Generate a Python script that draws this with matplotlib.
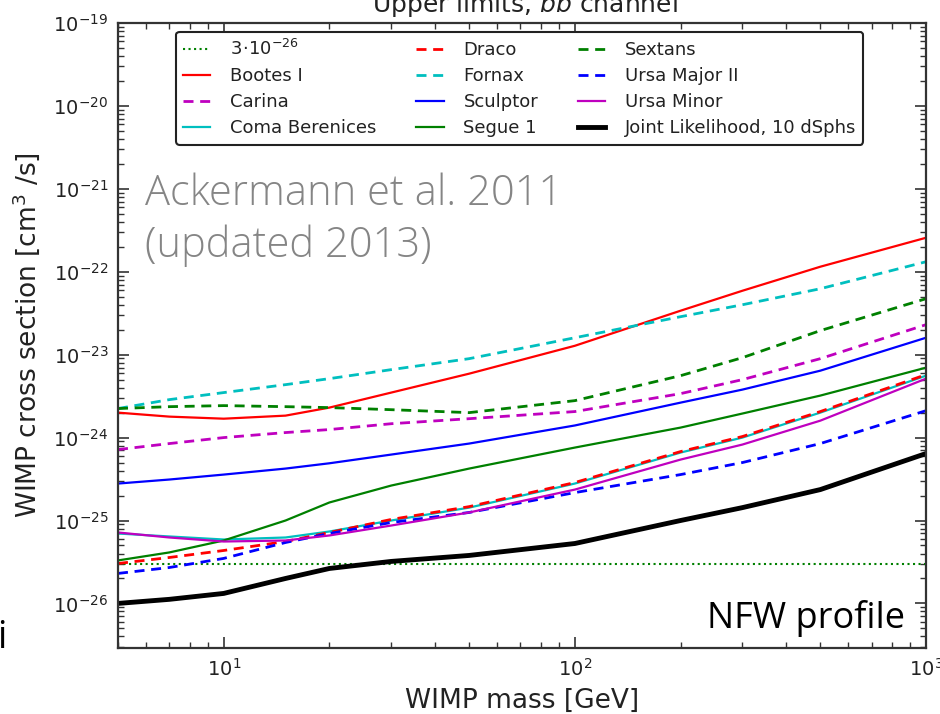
import matplotlib
matplotlib.use("Agg")
import matplotlib.pyplot as plt
from matplotlib.ticker import LogLocator, NullFormatter

mass = [5, 7, 10, 15, 20, 30, 50, 100, 200, 300, 500, 1000]

# upper limits on <sigma v> [cm^3/s], b-bbar channel, NFW profile
bootes = [2.0e-24, 1.79e-24, 1.69e-24, 1.84e-24, 2.30e-24, 3.49e-24, 5.9e-24, 1.28e-23, 3.39e-23, 5.9e-23, 1.15e-22, 2.57e-22]
carina = [7.17e-25, 8.47e-25, 1.0e-24, 1.15e-24, 1.25e-24, 1.47e-24, 1.69e-24, 2.06e-24, 3.39e-24, 5.0e-24, 8.95e-24, 2.30e-23]
coma = [6.97e-26, 6.42e-26, 5.90e-26, 6.24e-26, 7.37e-26, 1.0e-25, 1.43e-25, 2.79e-25, 6.6e-25, 1.0e-24, 2.0e-24, 5.58e-24]
draco = [3.03e-26, 3.58e-26, 4.35e-26, 5.58e-26, 7.17e-26, 1.03e-25, 1.47e-25, 2.87e-25, 6.78e-25, 1.03e-24, 2.06e-24, 5.74e-24]
fornax = [2.24e-24, 2.87e-24, 3.49e-24, 4.35e-24, 5.14e-24, 6.6e-24, 8.95e-24, 1.60e-23, 2.87e-23, 4.0e-23, 6.24e-23, 1.32e-22]
sculptor = [2.79e-25, 3.12e-25, 3.58e-25, 4.23e-25, 4.9e-25, 6.24e-25, 8.47e-25, 1.40e-24, 2.64e-24, 3.79e-24, 6.41e-24, 1.60e-23]
segue = [3.30e-26, 4.12e-26, 5.74e-26, 1.0e-25, 1.65e-25, 2.64e-25, 4.23e-25, 7.58e-25, 1.32e-24, 1.95e-24, 3.21e-24, 6.97e-24]
sextans = [2.24e-24, 2.36e-24, 2.43e-24, 2.36e-24, 2.30e-24, 2.17e-24, 2.0e-24, 2.79e-24, 5.58e-24, 9.2e-24, 1.95e-23, 4.73e-23]
umaii = [2.30e-26, 2.71e-26, 3.49e-26, 5.43e-26, 6.97e-26, 9.46e-26, 1.25e-25, 2.17e-25, 3.58e-25, 5.0e-25, 8.47e-25, 2.11e-24]
umi = [7.17e-26, 6.24e-26, 5.58e-26, 5.74e-26, 6.6e-26, 8.7e-26, 1.25e-25, 2.36e-25, 5.43e-25, 8.24e-25, 1.60e-24, 5.14e-24]
joint = [1.0e-26, 1.12e-26, 1.32e-26, 2.0e-26, 2.64e-26, 3.21e-26, 3.79e-26, 5.28e-26, 1.0e-25, 1.43e-25, 2.36e-25, 6.42e-25]
thermal = 3e-26

fig = plt.figure(figsize=(9.4, 7.14), dpi=100)
ax = fig.add_axes([118/940, 1-648/714, 808/940, 625/714])

dash = (0, (3.6, 2.4))
ax.axhline(thermal, color='g', ls=':', lw=1.5, label=r'$3\!\cdot\!10^{-26}$')
ax.plot(mass, bootes, color='r', lw=1.6, label='Bootes I')
ax.plot(mass, carina, color='m', lw=2, ls=dash, label='Carina')
ax.plot(mass, coma, color='c', lw=1.6, label='Coma Berenices')
ax.plot(mass, draco, color='r', lw=2, ls=dash, label='Draco')
ax.plot(mass, fornax, color='c', lw=2, ls=dash, label='Fornax')
ax.plot(mass, sculptor, color='b', lw=1.6, label='Sculptor')
ax.plot(mass, segue, color='g', lw=1.6, label='Segue 1')
ax.plot(mass, sextans, color='g', lw=2, ls=dash, label='Sextans')
ax.plot(mass, umaii, color='b', lw=2, ls=dash, label='Ursa Major II')
ax.plot(mass, umi, color='m', lw=1.6, label='Ursa Minor')
ax.plot(mass, joint, color='k', lw=3.5, label='Joint Likelihood, 10 dSphs')

ax.set_xscale('log')
ax.set_yscale('log')
ax.set_xlim(5, 1000)
ax.set_ylim(2.9e-27, 1e-19)
ax.yaxis.set_major_locator(LogLocator(base=10, numticks=20))
ax.yaxis.set_minor_locator(LogLocator(base=10, subs=range(2, 10), numticks=200))
ax.yaxis.set_minor_formatter(NullFormatter())
ax.xaxis.set_minor_formatter(NullFormatter())

ax.tick_params(which='both', direction='in', top=True, right=True, colors='#333333',
               labelcolor='#222222')
ax.tick_params(which='major', length=8, width=1.2, labelsize=14, pad=7)
ax.tick_params(which='minor', length=4, width=1)
for s in ax.spines.values():
    s.set_linewidth(1.6)
    s.set_color('#333333')

ax.set_xlabel('WIMP mass [GeV]', fontsize=19, color='#222222', labelpad=6)
ax.set_ylabel(r'WIMP cross section [cm$^3$ /s]', fontsize=19, color='#222222', labelpad=8)

fig.text(525/940, 1-13/714, r'Upper limits, $b\bar{b}$ channel', fontsize=18,
         ha='center', va='baseline', color='#222222')

leg = ax.legend(ncol=3, loc='upper left', bbox_to_anchor=(0.072, 0.986), fontsize=13,
                handlelength=1.5, handletextpad=1.1, columnspacing=2.2, labelspacing=0.45,
                borderpad=0.4, borderaxespad=0, fancybox=True, framealpha=1)
leg.get_frame().set_edgecolor('#222222')
leg.get_frame().set_linewidth(1.5)
for t in leg.get_texts():
    t.set_color('#222222')

fig.text(145/940, 1-205/714, 'Ackermann et al. 2011', fontsize=30,
         family='Open Sans', weight='light', color='#858585', ha='left', va='baseline')
fig.text(145/940, 1-257/714, '(updated 2013)', fontsize=30,
         family='Open Sans', weight='light', color='#858585', ha='left', va='baseline')
fig.text(905/940, 1-628/714, 'NFW profile', fontsize=26, family='Open Sans',
         color='black', ha='right', va='baseline')
fig.text(7/940, 1-648/714, 'i', fontsize=27, family='Open Sans', color='black',
         ha='right', va='baseline')

fig.savefig('out.png', dpi=100)
